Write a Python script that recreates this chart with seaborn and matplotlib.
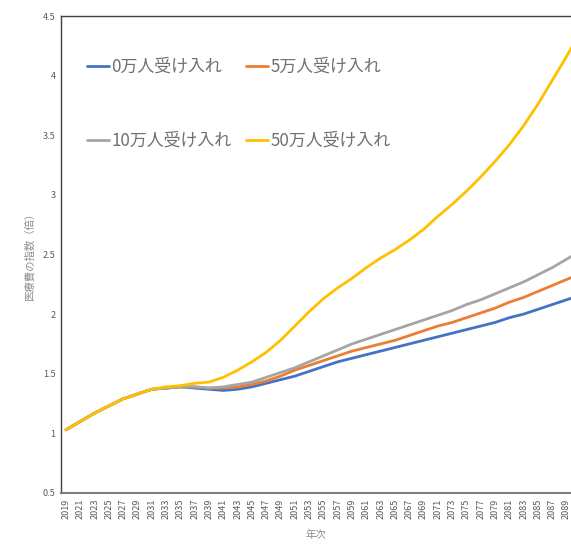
import pandas as pd
import matplotlib
matplotlib.use("Agg")
import matplotlib.pyplot as plt
import seaborn as sns

# データ（2年ごと、グラフから読み取り）
years = list(range(2019, 2093, 2))

idx_0 = [1.03, 1.10, 1.17, 1.23, 1.29, 1.33, 1.37, 1.38, 1.39, 1.38,
         1.37, 1.36, 1.37, 1.39, 1.42, 1.45, 1.48, 1.52, 1.56, 1.60,
         1.63, 1.66, 1.69, 1.72, 1.75, 1.78, 1.81, 1.84, 1.87, 1.90,
         1.93, 1.97, 2.00, 2.04, 2.08, 2.12, 2.16]
idx_5 = [1.03, 1.10, 1.17, 1.23, 1.29, 1.33, 1.37, 1.38, 1.39, 1.39,
         1.38, 1.38, 1.39, 1.41, 1.44, 1.48, 1.53, 1.57, 1.61, 1.65,
         1.69, 1.72, 1.75, 1.78, 1.82, 1.86, 1.90, 1.93, 1.97, 2.01,
         2.05, 2.10, 2.14, 2.19, 2.24, 2.29, 2.34]
idx_10 = [1.03, 1.10, 1.17, 1.23, 1.29, 1.33, 1.37, 1.38, 1.39, 1.39,
          1.38, 1.39, 1.41, 1.43, 1.47, 1.51, 1.55, 1.60, 1.65, 1.70,
          1.75, 1.79, 1.83, 1.87, 1.91, 1.95, 1.99, 2.03, 2.08, 2.12,
          2.17, 2.22, 2.27, 2.33, 2.39, 2.46, 2.53]
idx_50 = [1.03, 1.10, 1.17, 1.23, 1.29, 1.33, 1.37, 1.39, 1.40, 1.42,
          1.43, 1.47, 1.53, 1.60, 1.68, 1.78, 1.90, 2.02, 2.13, 2.22,
          2.30, 2.39, 2.47, 2.54, 2.62, 2.71, 2.82, 2.92, 3.03, 3.15,
          3.28, 3.42, 3.58, 3.76, 3.96, 4.16, 4.37]

series = ["0万人受け入れ", "5万人受け入れ", "10万人受け入れ", "50万人受け入れ"]
colors = ["#4472C4", "#ED7D31", "#A5A5A5", "#FFC000"]

df = pd.DataFrame({"年次": years, series[0]: idx_0, series[1]: idx_5,
                   series[2]: idx_10, series[3]: idx_50})
df = df.melt(id_vars="年次", var_name="シナリオ", value_name="指数")

sns.set_theme(style="white")
plt.rcParams["font.family"] = ["Noto Sans CJK JP", "DejaVu Sans"]

fig = plt.figure(figsize=(5.71, 5.46), dpi=100)
ax = fig.add_axes([61 / 571, 1 - 493 / 546, 1 - 61 / 571, (493 - 16) / 546])

sns.lineplot(data=df, x="年次", y="指数", hue="シナリオ", hue_order=series,
             palette=colors, linewidth=2.0, ax=ax)

ax.set_xlim(2018.3, 2089.63)
ax.set_ylim(0.5, 4.5)
ax.set_xticks(list(range(2019, 2091, 2)))
ax.set_xticklabels([str(y) for y in range(2019, 2091, 2)], rotation=90)
yt = [0.5, 1, 1.5, 2, 2.5, 3, 3.5, 4, 4.5]
ax.set_yticks(yt)
ax.set_yticklabels([f"{v:g}" for v in yt])
ax.tick_params(axis="both", length=0, labelsize=6.5, colors="#595959", pad=4)

for s in ["left", "top", "bottom"]:
    ax.spines[s].set_color("#404040")
    ax.spines[s].set_linewidth(1.0)
ax.spines["bottom"].set_color("#7f7f7f")
ax.spines["bottom"].set_linewidth(1.5)
ax.spines["right"].set_visible(False)

ax.set_xlabel("年次", fontsize=7.5, color="#8c8c8c", labelpad=8)
ax.set_ylabel("医療費の指数（倍）", fontsize=7.5, color="#8c8c8c", labelpad=6)

handles, labels = ax.get_legend_handles_labels()
order = [0, 2, 1, 3]
leg = ax.legend([handles[i] for i in order], [labels[i] for i in order],
                ncol=2, frameon=False, fontsize=12.2, loc="upper left",
                bbox_to_anchor=(87 / 571, 1 - 58 / 546),
                bbox_transform=fig.transFigure, borderaxespad=0, borderpad=0,
                handlelength=1.3, handletextpad=0.12, columnspacing=0.9,
                labelspacing=3.3, title=None)
for t in leg.get_texts():
    t.set_color("#707070")
for h in leg.legend_handles:
    h.set_linewidth(2.0)

fig.savefig("out.png", dpi=100)
